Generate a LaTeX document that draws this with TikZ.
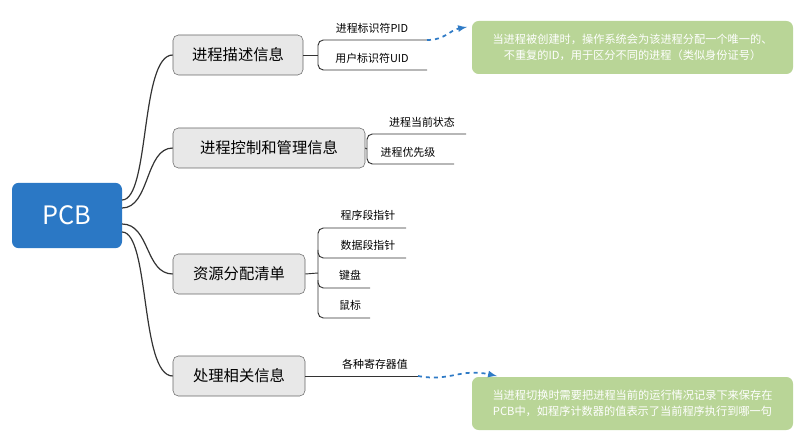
\documentclass[tikz,border=0pt]{standalone}
\usepackage{fontspec}
\setmainfont{Noto Sans CJK SC}
\begin{document}
\begin{tikzpicture}[x=0.75pt,y=-0.75pt,
 lvl/.style={draw=black!60,fill=black!9,rounded corners=4pt,minimum height=30pt,font=\fontsize{11.5}{13}\selectfont,inner sep=0pt},
 leaf/.style={font=\fontsize{8.2}{10}\selectfont,inner sep=0pt},
 note/.style={fill=green!40!olive!35!white,fill=noteg,rounded corners=5pt,text=white,font=\fontsize{8.4}{12}\selectfont,align=center,inner sep=0pt},
 br/.style={draw=black!80,line width=0.7pt,rounded corners=4pt},
 link/.style={draw=black!80,line width=0.9pt},
 dasharrow/.style={draw=arrowblue,line width=1.3pt,dashed,-latex}]
\definecolor{noteg}{HTML}{B9D597}
\definecolor{arrowblue}{HTML}{2F7BC6}
\definecolor{pcbblue}{HTML}{2B78C5}
\useasboundingbox (0,0) rectangle (812,441);
\node[fill=pcbblue,rounded corners=5pt,minimum width=82.5pt,minimum height=49pt,text=white,font=\fontsize{19}{22}\selectfont,inner sep=0pt] (pcb) at (67,215.5) {PCB};
\node[lvl,minimum width=97.5pt] (a) at (238,55) {进程描述信息};
\node[lvl,minimum width=144pt] (b) at (269,148) {进程控制和管理信息};
\node[lvl,minimum width=99pt] (c) at (239,274) {资源分配清单};
\node[lvl,minimum width=99pt] (d) at (239,376) {处理相关信息};
\coordinate (p1) at (122,200);
\coordinate (p2) at (122,208);
\coordinate (p3) at (122,224);
\coordinate (p4) at (122,232);
\draw[link] (p1) .. controls (150,200) and (140,55) .. (a.west);
\draw[link] (p2) .. controls (150,208) and (145,148) .. (b.west);
\draw[link] (p3) .. controls (150,224) and (145,274) .. (c.west);
\draw[link] (p4) .. controls (150,232) and (140,376) .. (d.west);
% branch a
\coordinate (a1) at (427,40); \coordinate (a2) at (427,70);
\draw[br] (a.east) -- (318,55);
\draw[br] (a1) -- (318,40) -- (318,70) -- (a2);
\node[leaf] (pid) at (372,28) {进程标识符PID};
\node[leaf] (uid) at (372,58) {用户标识符UID};
% branch b
\coordinate (b1) at (466,134); \coordinate (b2) at (454,164);
\draw[br] (b.east) -- (367,149);
\draw[br] (b1) -- (367,134) -- (367,164) -- (b2);
\node[leaf] (s1) at (422,122) {进程当前状态};
\node[leaf] (s2) at (408,152) {进程优先级};
% branch c
\coordinate (c1) at (406,228); \coordinate (c2) at (406,258);
\coordinate (c3) at (370,288); \coordinate (c4) at (370,318);
\draw[br] (c.east) -- (318,273);
\draw[br] (c1) -- (318,228) -- (318,258) -- (c2);
\draw[br] (318,250) -- (318,288) -- (c3);
\draw[br] (318,280) -- (318,318) -- (c4);
\node[leaf] (r1) at (368,215) {程序段指针};
\node[leaf] (r2) at (368,245) {数据段指针};
\node[leaf] (r3) at (350,275) {键盘};
\node[leaf] (r4) at (350,305) {鼠标};
% branch d
\coordinate (d1) at (418,376);
\draw[br] (d.east) -- (d1);
\node[leaf] (reg) at (375,364) {各种寄存器值};
% notes
\node[note,minimum width=240.75pt,minimum height=39.75pt] (n1) at (632.5,47.5) {当进程被创建时，操作系统会为该进程分配一个唯一的、\\不重复的ID，用于区分不同的进程（类似身份证号）};
\node[note,minimum width=240.75pt,minimum height=39.75pt] (n2) at (632.5,403.5) {当进程切换时需要把进程当前的运行情况记录下来保存在\\PCB中，如程序计数器的值表示了当前程序执行到哪一句};
\draw[dasharrow] (a1) .. controls (445,40) and (450,30) .. (467,27);
\draw[dasharrow] (d1) .. controls (450,382) and (460,368) .. (497,376);
\end{tikzpicture}
\end{document}
